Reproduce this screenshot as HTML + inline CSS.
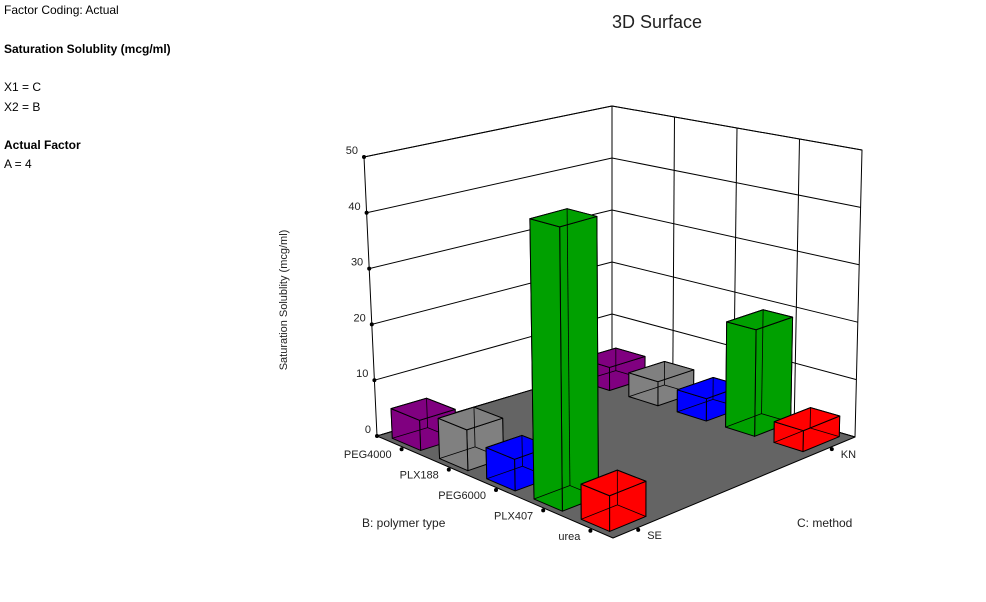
<!DOCTYPE html>
<html><head><meta charset="utf-8">
<style>
body{margin:0;background:#fff;width:986px;height:602px;overflow:hidden;font-family:"Liberation Sans",sans-serif;}
.t{position:absolute;font-size:12px;color:#000;white-space:nowrap}
.b{font-weight:bold}
</style></head><body>
<div class="t" style="left:4px;top:3px">Factor Coding: Actual</div>
<div class="t b" style="left:4px;top:42px">Saturation Solublity (mcg/ml)</div>
<div class="t" style="left:4px;top:80px">X1 = C</div>
<div class="t" style="left:4px;top:100px">X2 = B</div>
<div class="t b" style="left:4px;top:138px">Actual Factor</div>
<div class="t" style="left:4px;top:157px">A = 4</div>
<svg id="c" width="986" height="602" style="position:absolute;left:0;top:0"></svg>
<script>
const bLevels=["PEG4000","PLX188","PEG6000","PLX407","urea"];
const cLevels=["SE","KN"];
const seValues=[5.3,7,5.3,46.5,5.7];
const knValues=[4.3,4.4,4,18.7,3.6];
const colors=["#800080","#808080","#0000ff","#00a000","#ff0000"];
const zTicks=[0,10,20,30,40,50];
const zMax=50;

const svg=document.getElementById('c');
const NS="http://www.w3.org/2000/svg";
const Lc=[377,436],Fc=[613,538],Rc=[855,437],Bc=[612,366];
const sc={L:5.58,F:6.3,R:5.74,B:5.2};
const tl={L:-0.26,F:0,R:0.14,B:0};
function bil(a,b,c,d,u,v){return a*(1-u)*(1-v)+b*u*(1-v)+c*u*v+d*(1-u)*v;}
function P(u,v,z){
  const x=bil(Lc[0],Fc[0],Rc[0],Bc[0],u,v),y=bil(Lc[1],Fc[1],Rc[1],Bc[1],u,v);
  const s=bil(sc.L,sc.F,sc.R,sc.B,u,v),t=bil(tl.L,tl.F,tl.R,tl.B,u,v);
  return [x+t*z,y-s*z];
}
function el(tag,attrs,name,inter){const e=document.createElementNS(NS,tag);for(const k in attrs)e.setAttribute(k,attrs[k]);
  
  
  svg.appendChild(e);return e;}
function poly(pts,fill,name,sw){return el('polygon',{points:pts.map(p=>p.join(',')).join(' '),fill:fill,stroke:'#000','stroke-width':sw||1,'stroke-linejoin':'round'},name,false);}
function line(a,b,name,col,w){return el('line',{x1:a[0],y1:a[1],x2:b[0],y2:b[1],stroke:col||'#000','stroke-width':w||1},name,false);}
function text(x,y,s,name,anchor,size){const e=el('text',{x:x,y:y,'font-size':size||11,'text-anchor':anchor||'start','font-family':'Liberation Sans, sans-serif',fill:'#222'},name,false);e.textContent=s;return e;}

poly([P(0,0,0),P(0,1,0),P(0,1,zMax),P(0,0,zMax)],'#fff','left-wall',1);
poly([P(0,1,0),P(1,1,0),P(1,1,zMax),P(0,1,zMax)],'#fff','right-wall',1);
zTicks.forEach(z=>{line(P(0,0,z),P(0,1,z),'left-wall-grid-'+z);line(P(0,1,z),P(1,1,z),'right-wall-grid-'+z);});
[0.25,0.5,0.75].forEach((u,i)=>line(P(u,1,0),P(u,1,zMax),'right-wall-vgrid-'+i));
poly([P(0,0,0),P(1,0,0),P(1,1,0),P(0,1,0)],'#646464','floor',1);
zTicks.forEach(z=>{const p=P(0,0,z);el('circle',{cx:p[0],cy:p[1],r:2,fill:'#000'},'z-tick-'+z,false);text(p[0]-6,p[1]-3,String(z),'z-tick-label-'+z,'end',11);});
const bars=[];
bLevels.forEach((b,i)=>{bars.push({u:(i+0.5)/5,v:0.1,val:seValues[i],col:colors[i],n:'bar-'+b.toLowerCase()+'-se'});bars.push({u:(i+0.5)/5,v:0.9,val:knValues[i],col:colors[i],n:'bar-'+b.toLowerCase()+'-kn'});});
bars.sort((a,b)=>(b.v-b.u)-(a.v-a.u));
const hu=0.06,hv=0.075;
bars.forEach(b=>{
  const u0=b.u-hu,u1=b.u+hu,v0=b.v-hv,v1=b.v+hv,h=b.val;
  const g=el('g',{},b.n,false);
  const f=(pts)=>{const e=document.createElementNS(NS,'polygon');e.setAttribute('points',pts.map(p=>p.join(',')).join(' '));e.setAttribute('fill',b.col);e.setAttribute('stroke','#000');e.setAttribute('stroke-width','1');e.setAttribute('stroke-linejoin','round');g.appendChild(e);};
  f([P(u0,v1,0),P(u1,v1,0),P(u1,v1,h),P(u0,v1,h)]);
  f([P(u0,v0,0),P(u0,v1,0),P(u0,v1,h),P(u0,v0,h)]);
  f([P(u1,v0,0),P(u1,v1,0),P(u1,v1,h),P(u1,v0,h)]);
  f([P(u0,v0,0),P(u1,v0,0),P(u1,v0,h),P(u0,v0,h)]);
  f([P(u0,v0,h),P(u1,v0,h),P(u1,v1,h),P(u0,v1,h)]);
  const ed=(a,c)=>{const e=document.createElementNS(NS,'line');e.setAttribute('x1',a[0]);e.setAttribute('y1',a[1]);e.setAttribute('x2',c[0]);e.setAttribute('y2',c[1]);e.setAttribute('stroke','#000');e.setAttribute('stroke-width','0.8');g.appendChild(e);};
  ed(P(u0,v1,0),P(u0,v1,h));ed(P(u0,v1,0),P(u1,v1,0));ed(P(u0,v1,0),P(u0,v0,0));
});
bLevels.forEach((b,i)=>{const p=P((i+0.5)/5,0,0);const q=[p[0]+1,p[1]+3];
  el('circle',{cx:q[0],cy:q[1],r:2,fill:'#000'},'b-tick-'+b.toLowerCase(),false);
  text(q[0]-10,q[1]+9,b,'b-tick-label-'+b.toLowerCase(),'end',11);});
cLevels.forEach((c,i)=>{const p=P(1,i===0?0.1:0.9,0);const q=[p[0]+1,p[1]+2];
  el('circle',{cx:q[0],cy:q[1],r:2,fill:'#000'},'c-tick-'+c.toLowerCase(),false);
  text(q[0]+9,q[1]+9,c,'c-tick-label-'+c.toLowerCase(),'start',11);});
text(657,28,'3D Surface','chart-title','middle',18);
const yt=text(0,0,'Saturation Solublity (mcg/ml)','z-axis-title','middle',11);
yt.setAttribute('transform','translate(287,300) rotate(-90)');
text(362,527,'B: polymer type','b-axis-title','start',12);
text(797,527,'C: method','c-axis-title','start',12);
</script>
</body></html>
